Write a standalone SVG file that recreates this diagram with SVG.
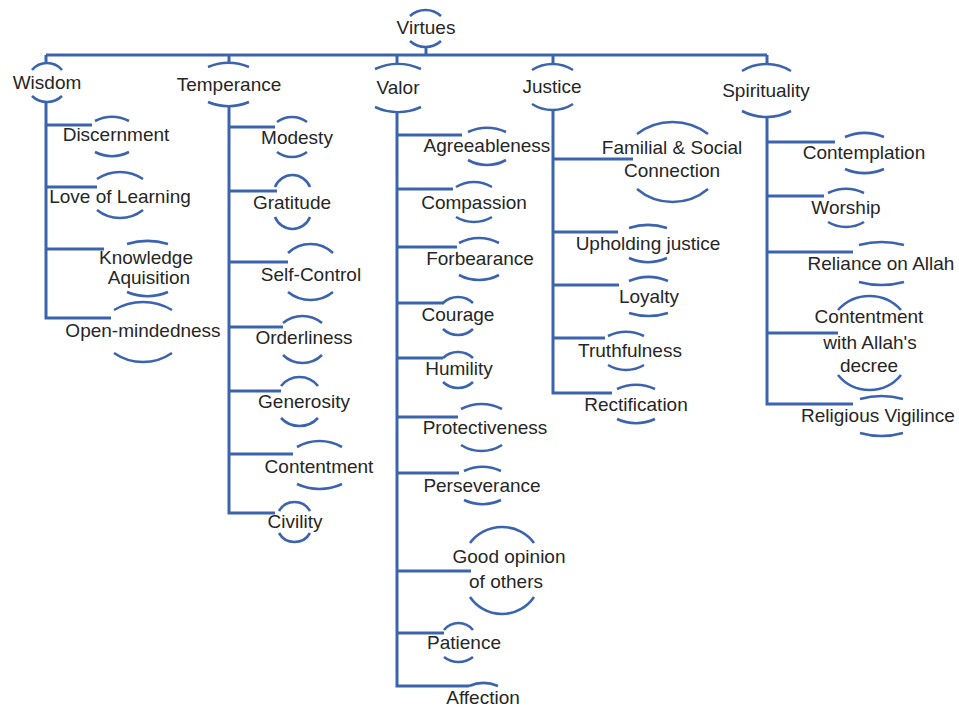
<svg xmlns="http://www.w3.org/2000/svg" width="959" height="710" viewBox="0 0 959 710">
<style>
.c{fill:none;stroke:#3C64AE;stroke-width:3;stroke-linecap:butt;stroke-linejoin:miter}
.a{fill:none;stroke:#3C64AE;stroke-width:2.6}
text{font-family:"Liberation Sans",Arial,sans-serif;font-size:19px;fill:#262626;text-anchor:middle}
</style>
<rect width="959" height="710" fill="#ffffff"/>
<g id="connectors">
<path class="c" d="M426,47 V55"/>
<path class="c" d="M46,55 H767"/>
<path class="c" d="M46,55 V63"/>
<path class="c" d="M229,55 V63"/>
<path class="c" d="M397,55 V64"/>
<path class="c" d="M553,55 V64"/>
<path class="c" d="M767,55 V64"/>
<path class="c" d="M46,102 V318 H111"/>
<path class="c" d="M46,125 H92"/>
<path class="c" d="M46,187 H97"/>
<path class="c" d="M46,249 H104"/>
<path class="c" d="M229,106 V513 H275"/>
<path class="c" d="M229,127 H275"/>
<path class="c" d="M229,191 H277"/>
<path class="c" d="M229,262 H288"/>
<path class="c" d="M229,327 H283"/>
<path class="c" d="M229,391 H281"/>
<path class="c" d="M229,454 H293"/>
<path class="c" d="M397,112 V686 H469"/>
<path class="c" d="M397,135 H462"/>
<path class="c" d="M397,189 H453"/>
<path class="c" d="M397,247 H457"/>
<path class="c" d="M397,303 H444"/>
<path class="c" d="M397,358 H443"/>
<path class="c" d="M397,417 H458"/>
<path class="c" d="M397,473 H459"/>
<path class="c" d="M397,571 H471"/>
<path class="c" d="M397,633 H444"/>
<path class="c" d="M553,110 V393 H612"/>
<path class="c" d="M553,159 H633"/>
<path class="c" d="M553,232 H618"/>
<path class="c" d="M553,285 H619"/>
<path class="c" d="M553,338 H605"/>
<path class="c" d="M767,117 V404 H853"/>
<path class="c" d="M767,142 H835"/>
<path class="c" d="M767,196 H824"/>
<path class="c" d="M767,252 H853"/>
<path class="c" d="M767,333 H838"/>
</g>

<g id="virtues"><path class="a" d="M410,16 A23,23 0 0 1 441,16"/><path class="a" d="M410,41 A23,23 0 0 0 441,41"/><text x="426" y="34">Virtues</text></g>

<g id="wisdom"><path class="a" d="M32,70 A19.6,19.6 0 0 1 62,70"/><path class="a" d="M32,96 A21.7,21.7 0 0 0 62,96"/><text x="47" y="89">Wisdom</text></g>
<g id="discernment"><path class="a" d="M95,121 A38,38 0 0 1 129,121"/><path class="a" d="M95,152 A38,38 0 0 0 129,152"/><text x="116" y="141">Discernment</text></g>
<g id="love-of-learning"><path class="a" d="M97,179 A41,41 0 0 1 143,179"/><path class="a" d="M97,210 A37,37 0 0 0 143,210"/><text x="120" y="203">Love of Learning</text></g>
<g id="knowledge-aquisition"><path class="a" d="M127,244 A71,71 0 0 1 168,244"/><path class="a" d="M127,292 A54,54 0 0 0 168,292"/><text x="146" y="264">Knowledge</text><text x="149" y="284">Aquisition</text></g>
<g id="open-mindedness"><path class="a" d="M114,310 A56.6,56.6 0 0 1 172,310"/><path class="a" d="M114,353 A51,51 0 0 0 172,353"/><text x="143" y="337">Open-mindedness</text></g>

<g id="temperance"><path class="a" d="M208,67 A54,54 0 0 1 249,67"/><path class="a" d="M208,102 A54,54 0 0 0 249,102"/><text x="229" y="91">Temperance</text></g>
<g id="modesty"><path class="a" d="M277,122 A25,25 0 0 1 307,122"/><path class="a" d="M277,152 A25,25 0 0 0 307,152"/><text x="297" y="144">Modesty</text></g>
<g id="gratitude"><path class="a" d="M275,187 A18.8,18.8 0 0 1 310,187"/><path class="a" d="M275,217 A18.8,18.8 0 0 0 310,217"/><text x="292" y="209">Gratitude</text></g>
<g id="self-control"><path class="a" d="M288,253 A32.6,32.6 0 0 1 333,253"/><path class="a" d="M288,292 A35.6,35.6 0 0 0 333,292"/><text x="311" y="281">Self-Control</text></g>
<g id="orderliness"><path class="a" d="M283,323 A30.7,30.7 0 0 1 322,323"/><path class="a" d="M283,355 A27.8,27.8 0 0 0 322,355"/><text x="304" y="344">Orderliness</text></g>
<g id="generosity"><path class="a" d="M281,386 A23.5,23.5 0 0 1 318,386"/><path class="a" d="M281,418 A25.4,25.4 0 0 0 318,418"/><text x="304" y="408">Generosity</text></g>
<g id="contentment"><path class="a" d="M297,447 A45,45 0 0 1 342,447"/><path class="a" d="M297,484 A53,53 0 0 0 342,484"/><text x="319" y="473">Contentment</text></g>
<g id="civility"><path class="a" d="M279,511 A17.8,17.8 0 0 1 310,511"/><path class="a" d="M279,533 A17.8,17.8 0 0 0 310,533"/><text x="295" y="528">Civility</text></g>

<g id="valor"><path class="a" d="M375,69 A55,55 0 0 1 421,69"/><path class="a" d="M375,107 A55,55 0 0 0 421,107"/><text x="398" y="94">Valor</text></g>
<g id="agreeableness"><path class="a" d="M468,132 A47,47 0 0 1 506,132"/><path class="a" d="M468,160 A38.6,38.6 0 0 0 506,160"/><text x="487" y="152">Agreeableness</text></g>
<g id="compassion"><path class="a" d="M456,187 A35,35 0 0 1 492,187"/><path class="a" d="M456,217 A35,35 0 0 0 492,217"/><text x="474" y="209">Compassion</text></g>
<g id="forbearance"><path class="a" d="M459,243 A42.5,42.5 0 0 1 499,243"/><path class="a" d="M459,275 A42.5,42.5 0 0 0 499,275"/><text x="480" y="265">Forbearance</text></g>
<g id="courage"><path class="a" d="M443,303 A21.7,21.7 0 0 1 473,303"/><path class="a" d="M443,329 A21.7,21.7 0 0 0 473,329"/><text x="458" y="321">Courage</text></g>
<g id="humility"><path class="a" d="M443,358 A21.7,21.7 0 0 1 473,358"/><path class="a" d="M443,382 A21.7,21.7 0 0 0 473,382"/><text x="459" y="375">Humility</text></g>
<g id="protectiveness"><path class="a" d="M461,409 A44.5,44.5 0 0 1 502,409"/><path class="a" d="M461,445 A38,38 0 0 0 502,445"/><text x="485" y="434">Protectiveness</text></g>
<g id="perseverance"><path class="a" d="M464,471 A44.8,44.8 0 0 1 501,471"/><path class="a" d="M464,500 A44.8,44.8 0 0 0 501,500"/><text x="482" y="492">Perseverance</text></g>
<g id="good-opinion"><path class="a" d="M470,543 A40,40 0 0 1 534,543"/><path class="a" d="M470,597 A38.6,38.6 0 0 0 534,597"/><text x="509" y="563">Good opinion</text><text x="506" y="588">of others</text></g>
<g id="patience"><path class="a" d="M444,630 A18.5,18.5 0 0 1 473,630"/><path class="a" d="M444,657 A23.5,23.5 0 0 0 473,657"/><text x="464" y="649">Patience</text></g>
<g id="affection"><path class="a" d="M469,686 A36.5,36.5 0 0 1 498,686"/><text x="483" y="704">Affection</text></g>

<g id="justice"><path class="a" d="M532,70 A38,38 0 0 1 573,70"/><path class="a" d="M532,104 A38,38 0 0 0 573,104"/><text x="552" y="93">Justice</text></g>
<g id="familial-social"><path class="a" d="M637,134 A58.5,58.5 0 0 1 708,134"/><path class="a" d="M637,189 A55,55 0 0 0 708,189"/><text x="672" y="154">Familial &amp; Social</text><text x="672" y="177">Connection</text></g>
<g id="upholding-justice"><path class="a" d="M629,228 A61.7,61.7 0 0 1 667,228"/><path class="a" d="M629,258 A47,47 0 0 0 667,258"/><text x="648" y="250">Upholding justice</text></g>
<g id="loyalty"><path class="a" d="M629,281 A49.5,49.5 0 0 1 668,281"/><path class="a" d="M629,313 A65,65 0 0 0 668,313"/><text x="649" y="303">Loyalty</text></g>
<g id="truthfulness"><path class="a" d="M608,336 A42.5,42.5 0 0 1 644,336"/><path class="a" d="M608,365 A35,35 0 0 0 644,365"/><text x="630" y="357">Truthfulness</text></g>
<g id="rectification"><path class="a" d="M617,389 A47,47 0 0 1 655,389"/><path class="a" d="M617,419 A47,47 0 0 0 655,419"/><text x="636" y="411">Rectification</text></g>

<g id="spirituality"><path class="a" d="M742,71 A46.4,46.4 0 0 1 791,71"/><path class="a" d="M742,111 A53,53 0 0 0 791,111"/><text x="766" y="97">Spirituality</text></g>
<g id="contemplation"><path class="a" d="M845,137 A49.5,49.5 0 0 1 884,137"/><path class="a" d="M845,169 A49.5,49.5 0 0 0 884,169"/><text x="864" y="159">Contemplation</text></g>
<g id="worship"><path class="a" d="M828,193 A42.5,42.5 0 0 1 864,193"/><path class="a" d="M828,222 A35,35 0 0 0 864,222"/><text x="846" y="214">Worship</text></g>
<g id="reliance"><path class="a" d="M859,245 A86,86 0 0 1 904,245"/><path class="a" d="M859,282 A86,86 0 0 0 904,282"/><text x="881" y="270">Reliance on Allah</text></g>
<g id="contentment-decree"><path class="a" d="M838,310 A42.4,42.4 0 0 1 901,310"/><path class="a" d="M838,375 A40.6,40.6 0 0 0 901,375"/><text x="869" y="323">Contentment</text><text x="870" y="349">with Allah's</text><text x="869" y="372">decree</text></g>
<g id="religious-vigilince"><path class="a" d="M860,399 A78.5,78.5 0 0 1 903,399"/><path class="a" d="M860,433 A78.5,78.5 0 0 0 903,433"/><text x="878" y="422">Religious Vigilince</text></g>
</svg>
